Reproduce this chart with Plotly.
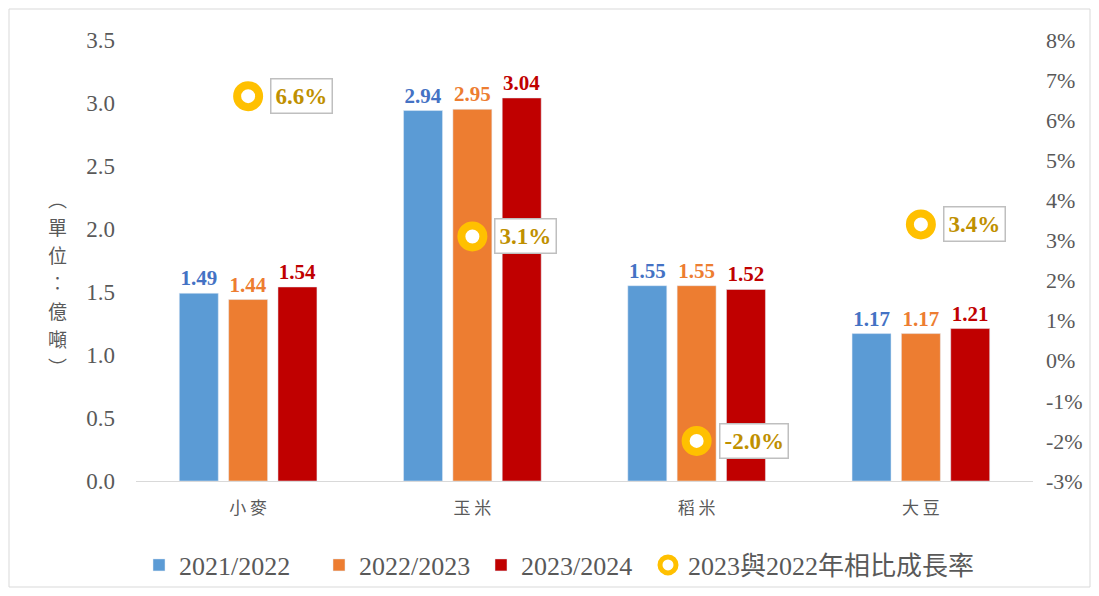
import plotly.graph_objects as go

categories = ["小麥", "玉米", "稻米", "大豆"]
s2021 = [1.49, 2.94, 1.55, 1.17]
s2022 = [1.44, 2.95, 1.55, 1.17]
s2023 = [1.54, 3.04, 1.52, 1.21]
growth = [6.6, 3.1, -2.0, 3.4]
series_names = ["2021/2022", "2022/2023", "2023/2024", "2023與2022年相比成長率"]
y_title_chars = ["︵", "單", "位", "︰", "億", "噸", "︶"]
y2_ticks = [-3, -2, -1, 0, 1, 2, 3, 4, 5, 6, 7, 8]

SERIF = "Liberation Serif, Times New Roman, Noto Sans CJK TC, serif"
bar_colors = ["#5B9BD5", "#ED7D31", "#C00000"]
label_colors = ["#4472C4", "#ED7D31", "#C00000"]

# page body has an 8px margin; lay out in window pixels and convert
OFF = 8
W, H = 1099 - 2 * OFF, 596 - 2 * OFF
PL, PR, PT, PB = 136, 1033, 40, 481          # plot area in window pixels
L, T = PL - OFF, PT - OFF
R, B = W - (PR - OFF), H - (PB - OFF)
pw, ph = W - L - R, H - T - B

def px_x(xw):
    return (xw - PL) / pw

def px_y(yw):
    return 1 - (yw - PT) / ph

legend_ids = ["legend", "legend2", "legend3", "legend4"]
legend_left = [139, 319, 481, 648]   # window pixels

fig = go.Figure()
for name, vals, c, lc, lid in zip(series_names[:3], [s2021, s2022, s2023], bar_colors,
                                  label_colors, legend_ids):
    fig.add_trace(go.Bar(
        x=categories, y=vals, name=name, marker_color=c, legend=lid,
        text=[f"{v:.2f}" for v in vals], textposition="outside",
        textfont=dict(family=SERIF, size=21, color=lc, weight="bold"),
        cliponaxis=False,
    ))

fig.add_trace(go.Scatter(
    x=categories, y=growth, name=series_names[3], yaxis="y2", mode="markers",
    legend=legend_ids[3],
    marker=dict(symbol="circle", size=22, color="white", line=dict(color="#FFC000", width=8)),
))

for cat, g in zip(categories, growth):
    fig.add_annotation(
        x=cat, y=g, xref="x", yref="y2", text=f"{g:.1f}%", showarrow=False,
        xanchor="left", xshift=22,
        font=dict(family=SERIF, size=23, color="#BF9000", weight="bold"),
        bordercolor="#BFBFBF", borderwidth=1.5, borderpad=4, bgcolor="white",
    )

# vertical y-axis title, one character per line
for i, ch in enumerate(y_title_chars):
    fig.add_annotation(
        text=ch, xref="paper", yref="paper",
        x=px_x(57), y=px_y(198 + i * 28), showarrow=False,
        xanchor="center", yanchor="middle",
        font=dict(family="Noto Sans CJK TC", size=19, color="#595959"),
    )

# outer border
fig.add_shape(type="rect", xref="paper", yref="paper",
              x0=(-L + 1) / pw, x1=(pw + R - 1) / pw, y0=(-B + 1) / ph, y1=(ph + T - 1) / ph,
              line=dict(color="#D9D9D9", width=1), layer="below")

legend_layouts = {}
for lid, lx in zip(legend_ids, legend_left):
    legend_layouts[lid] = dict(
        orientation="h", x=px_x(lx), xanchor="left", y=px_y(565), yanchor="middle",
        font=dict(family=SERIF, size=26, color="#595959"), itemwidth=30,
        bgcolor="rgba(0,0,0,0)",
    )

fig.update_layout(
    width=W, height=H,
    margin=dict(l=L, r=R, t=T, b=B, autoexpand=False),
    paper_bgcolor="white", plot_bgcolor="white",
    barmode="group", bargap=0.34, bargroupgap=0.21,
    font=dict(family=SERIF, color="#595959"),
    showlegend=True,
    **legend_layouts,
    xaxis=dict(showline=True, linecolor="#D9D9D9", linewidth=1, ticks="", automargin=False,
               tickmode="array", tickvals=categories,
               ticktext=[" ".join(c) for c in categories],
               tickfont=dict(family="Noto Sans CJK TC", size=17, color="#595959"),
               ticklabelstandoff=12),
    yaxis=dict(range=[0, 3.5], dtick=0.5, tickformat=".1f", showgrid=False, zeroline=False,
               automargin=False,
               tickfont=dict(family=SERIF, size=23, color="#595959"), ticklabelstandoff=20),
    yaxis2=dict(range=[-3, 8], tickmode="array", tickvals=y2_ticks,
                ticktext=[f"{v}%" for v in y2_ticks], overlaying="y", side="right",
                showgrid=False, zeroline=False, automargin=False,
                tickfont=dict(family=SERIF, size=22, color="#595959"), ticklabelstandoff=12),
)

fig.write_html("out.html")
